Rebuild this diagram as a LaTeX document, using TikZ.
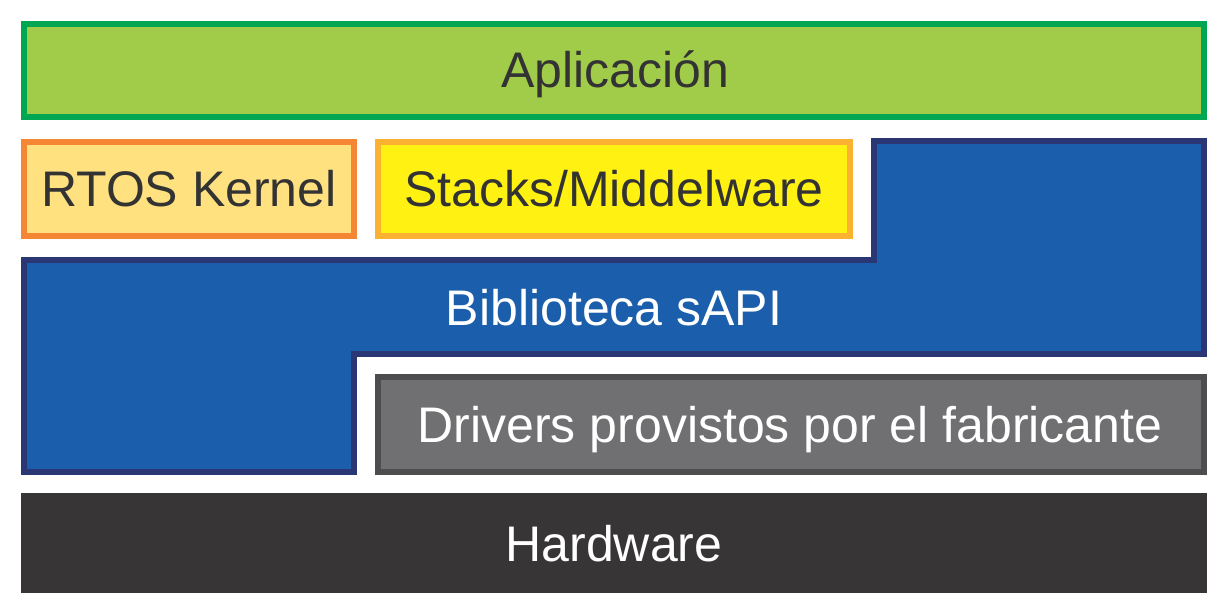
\documentclass[tikz,border=0pt]{standalone}
\usepackage{fontspec}
\setmainfont{Liberation Sans}
\definecolor{appfill}{RGB}{161,204,74}
\definecolor{appline}{RGB}{0,166,81}
\definecolor{rtosfill}{RGB}{255,225,128}
\definecolor{rtosline}{RGB}{245,134,52}
\definecolor{stkfill}{RGB}{255,242,18}
\definecolor{stkline}{RGB}{251,177,49}
\definecolor{sapifill}{RGB}{27,94,171}
\definecolor{sapiline}{RGB}{43,54,116}
\definecolor{drvfill}{RGB}{112,112,114}
\definecolor{drvline}{RGB}{77,77,79}
\definecolor{hwfill}{RGB}{55,53,54}
\definecolor{darktext}{RGB}{51,51,51}
\begin{document}
\begin{tikzpicture}[x=1pt,y=-1pt,
  layer/.style={line width=6pt,line join=miter},
  lbl/.style={font=\fontsize{50}{60}\selectfont,inner sep=0pt,anchor=base},
  darklbl/.style={lbl,text=darktext},
  lightlbl/.style={lbl,text=white}]
\useasboundingbox[fill=white] (0,0) rectangle (1228,614);
% Aplicacion
\draw[layer,fill=appfill,draw=appline] (23.7,23.7) rectangle (1204.3,117);
\node[darklbl] (app) at (615,87.3) {Aplicación};
% RTOS
\draw[layer,fill=rtosfill,draw=rtosline] (23.7,141.7) rectangle (354.3,235.7);
\node[darklbl] (rtos) at (189,206.7) {RTOS Kernel};
% Stacks
\draw[layer,fill=stkfill,draw=stkline] (378,141.7) rectangle (850.3,235.7);
\node[darklbl] (stacks) at (614,206.7) {Stacks/Middelware};
% sAPI
\draw[layer,fill=sapifill,draw=sapiline] (23.7,259.7) -- (873.7,259.7) -- (873.7,141.3) -- (1204.3,141.3) -- (1204.3,353.7) -- (353.7,353.7) -- (353.7,472) -- (23.7,472) -- cycle;
\node[lightlbl] (sapi) at (614,325) {Biblioteca sAPI};
% Drivers
\draw[layer,fill=drvfill,draw=drvline] (378,377.3) rectangle (1204.3,472.3);
\node[lightlbl] (drv) at (790,442.7) {Drivers provistos por el fabricante};
% Hardware
\fill[hwfill] (20.7,493.3) rectangle (1207.3,593.3);
\node[lightlbl] (hw) at (614,561.7) {Hardware};
\end{tikzpicture}
\end{document}
